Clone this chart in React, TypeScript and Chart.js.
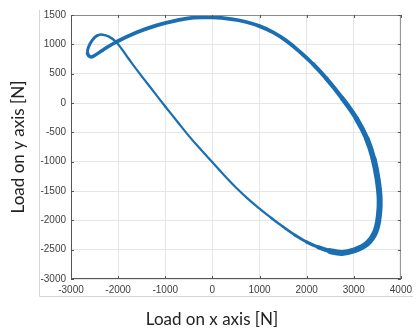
import React, { useEffect, useRef } from 'react';
import { Chart, registerables } from 'chart.js';

Chart.register(...registerables);

// Orbit of the load vector, traced once around (start/end on the diagonal)
const loadX = [
  -1000, -750, -500, -250, 0, 250, 500, 750, 1000, 1250, 1500, 1750, 2000, 2250, 2500,
  2750, 3000, 3280, 3456, 3534, 3550, 3506, 3422, 3281, 3060, 2760, 2420, 2140, 1860,
  1580, 1300, 1000, 700, 400, 0, -400, -800, -1200, -1600, -2040, -2320, -2500, -2585,
  -2650, -2630, -2540, -2440, -2330, -2195, -2040, -1800, -1550, -1270, -1000,
];
const loadY = [
  -60, -310, -560, -790, -1010, -1230, -1440, -1630, -1800, -1960, -2110, -2250, -2370, -2460, -2525,
  -2555, -2515, -2400, -2200, -1918, -1636, -1297, -958, -615, -270, 75, 415, 660, 870,
  1055, 1200, 1310, 1385, 1430, 1458, 1455, 1400, 1320, 1205, 1040, 905, 810, 785,
  850, 950, 1080, 1150, 1165, 1132, 1040, 780, 510, 220, -60,
];

const xTickValues = [-3000, -2000, -1000, 0, 1000, 2000, 3000, 4000];
const yTickValues = [-3000, -2500, -2000, -1500, -1000, -500, 0, 500, 1000, 1500];
const xTitle = 'Load on x axis [N]';
const yTitle = 'Load on y axis [N]';

const LINE_COLOR = '#1a6fb3';

const WIDTHS: Record<number, number> = {
  9: 2.4, 10: 2.6, 11: 2.9, 12: 3.3, 13: 4.2, 22: 5.6, 23: 5.2, 24: 4.8, 25: 4.4, 26: 4.1,
};

function segWidth(i: number): number {
  if (WIDTHS[i] !== undefined) return WIDTHS[i];
  if (i <= 8) return 2.2;
  if (i <= 21) return 6;
  if (i <= 38) return 3.8;
  if (i <= 42) return 3.5;
  if (i <= 45) return 3;
  if (i <= 48) return 2.5;
  return 2.2;
}

const framePlugin = {
  id: 'matlabFrame',
  afterDraw(chart: any) {
    const { ctx, chartArea } = chart;
    const { left, right, top, bottom } = chartArea;
    ctx.save();
    // figure outline (left & bottom)
    ctx.strokeStyle = '#d6d6d6';
    ctx.lineWidth = 1;
    ctx.beginPath();
    ctx.moveTo(39.5, 10);
    ctx.lineTo(39.5, 296.5);
    ctx.lineTo(413, 296.5);
    ctx.stroke();
    // axes box
    ctx.strokeStyle = '#8c8c8c';
    ctx.beginPath();
    ctx.moveTo(left + 0.5, top + 0.5);
    ctx.lineTo(right - 0.5, top + 0.5);
    ctx.lineTo(right - 0.5, bottom - 0.5);
    ctx.stroke();
    ctx.strokeStyle = '#555555';
    ctx.beginPath();
    ctx.moveTo(left + 0.5, top);
    ctx.lineTo(left + 0.5, bottom - 0.5);
    ctx.lineTo(right, bottom - 0.5);
    ctx.stroke();
    // inward ticks
    const xs = chart.scales.x;
    const ys = chart.scales.y;
    ctx.strokeStyle = '#555555';
    ctx.beginPath();
    xTickValues.forEach((v) => {
      const px = Math.round(xs.getPixelForValue(v)) + 0.5;
      ctx.moveTo(px, bottom);
      ctx.lineTo(px, bottom - 3);
      ctx.moveTo(px, top);
      ctx.lineTo(px, top + 3);
    });
    yTickValues.forEach((v) => {
      const py = Math.round(ys.getPixelForValue(v)) + 0.5;
      ctx.moveTo(left, py);
      ctx.lineTo(left + 3, py);
      ctx.moveTo(right, py);
      ctx.lineTo(right - 3, py);
    });
    ctx.stroke();
    // x axis title
    ctx.fillStyle = '#222222';
    ctx.font = '17px Lato';
    ctx.textAlign = 'center';
    ctx.textBaseline = 'middle';
    ctx.fillText(xTitle, 212, 320);
    ctx.restore();
  },
};

export default function App() {
  const canvasRef = useRef<HTMLCanvasElement | null>(null);

  useEffect(() => {
    document.body.style.margin = '0';
    const canvas = canvasRef.current;
    if (!canvas) return;
    const data = loadX.map((x, i) => ({ x, y: loadY[i] }));
    const chart = new Chart(canvas, {
      type: 'scatter',
      data: {
        datasets: [
          {
            data,
            showLine: true,
            borderColor: LINE_COLOR,
            borderWidth: 3,
            borderCapStyle: 'round',
            borderJoinStyle: 'round',
            pointRadius: 0,
            tension: 0.4,
            fill: false,
            segment: {
              borderWidth: (ctx: any) => segWidth(ctx.p0DataIndex),
            },
          } as any,
        ],
      },
      options: {
        animation: false,
        responsive: false,
        maintainAspectRatio: false,
        layout: { padding: { top: 15, right: 13, left: 0, bottom: 0 } },
        plugins: {
          legend: { display: false },
          tooltip: { enabled: false },
        },
        scales: {
          x: {
            type: 'linear',
            min: -3000,
            max: 4000,
            afterFit: (s: any) => {
              s.height = 51;
            },
            afterBuildTicks: (s: any) => {
              s.ticks = xTickValues.map((v) => ({ value: v }));
            },
            grid: { color: '#e6e6e6', drawTicks: false, lineWidth: 1 },
            border: { display: false },
            ticks: {
              padding: 5,
              color: '#404040',
              font: { family: 'Liberation Sans', size: 10 },
              maxRotation: 0,
              callback: (v: any) => String(v),
            },
          },
          y: {
            type: 'linear',
            min: -3000,
            max: 1500,
            afterFit: (s: any) => {
              s.width = 71;
            },
            afterBuildTicks: (s: any) => {
              s.ticks = yTickValues.map((v) => ({ value: v }));
            },
            grid: { color: '#e6e6e6', drawTicks: false, lineWidth: 1 },
            border: { display: false },
            title: {
              display: true,
              text: yTitle,
              color: '#222222',
              font: { family: 'Lato', size: 17 },
              padding: { top: 8, bottom: 0 },
            },
            ticks: {
              padding: 5,
              color: '#404040',
              font: { family: 'Liberation Sans', size: 10 },
              callback: (v: any) => String(v),
            },
          },
        },
      },
      plugins: [framePlugin],
    });
    return () => chart.destroy();
  }, []);

  return (
    <div style={{ position: 'relative', width: 417, height: 330, background: '#ffffff' }}>
      <canvas ref={canvasRef} width={417} height={330} style={{ display: 'block', width: 417, height: 330 }} />
    </div>
  );
}
